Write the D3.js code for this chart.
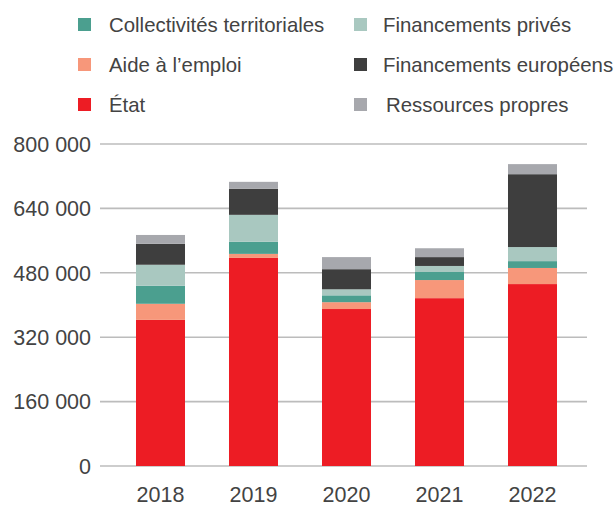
<!DOCTYPE html>
<html>
<head>
<meta charset="utf-8">
<script src="https://cdn.jsdelivr.net/npm/d3@7"></script>
<style>
  html, body { margin: 0; padding: 0; background: #fff; }
  svg { display: block; font-family: "Liberation Sans", Arial, Helvetica, sans-serif; }
</style>
</head>
<body>
<svg id="chart" width="614" height="508"></svg>
<script>
const years = ["2018", "2019", "2020", "2021", "2022"];
const seriesNames = ["État", "Aide à l’emploi", "Collectivités territoriales", "Financements privés", "Financements européens", "Ressources propres"];
const etat = [363000, 517000, 390000, 417000, 452000];
const aideEmploi = [40000, 10000, 17000, 45000, 40000];
const collectivites = [45000, 30000, 17000, 20000, 17000];
const financementsPrives = [52000, 67000, 15000, 15000, 35000];
const financementsEuropeens = [52000, 65000, 50000, 22000, 181000];
const ressourcesPropres = [22000, 17000, 30000, 22000, 25000];
const yTicks = [0, 160000, 320000, 480000, 640000, 800000];
const colors = ["#ed1c24", "#f7977a", "#4b9f8f", "#a9c8c0", "#3e3e3e", "#a7a8ad"];

const valuesBySeries = [etat, aideEmploi, collectivites, financementsPrives, financementsEuropeens, ressourcesPropres];
const table = years.map((y, i) => {
  const row = { year: y };
  seriesNames.forEach((s, k) => { row[s] = valuesBySeries[k][i]; });
  return row;
});

const svg = d3.select("#chart");
const x = d3.scaleBand().domain(years).range([114, 579]).paddingInner(0.473).paddingOuter(0.2365);
const y = d3.scaleLinear().domain([0, 800000]).range([466, 144]);

const fmt = v => d3.format(",")(v).replace(/,/g, " ");

// gridlines
svg.append("g").selectAll("line").data(yTicks).join("line")
  .attr("x1", 100).attr("x2", 587)
  .attr("y1", d => y(d)).attr("y2", d => y(d))
  .attr("stroke", "#bcbcbc").attr("stroke-width", 1.6);

// y labels
svg.append("g").selectAll("text").data(yTicks).join("text")
  .attr("x", 91).attr("y", d => y(d)).attr("dy", "0.36em")
  .attr("text-anchor", "end").attr("font-size", 21.5).attr("fill", "#434343")
  .text(d => fmt(d));

// x labels
svg.append("g").selectAll("text").data(years).join("text")
  .attr("x", d => x(d) + x.bandwidth() / 2).attr("y", 502)
  .attr("text-anchor", "middle").attr("font-size", 21.5).attr("fill", "#434343")
  .text(d => d);

// stacked bars
const stack = d3.stack().keys(seriesNames)(table);
svg.append("g").selectAll("g").data(stack).join("g")
  .attr("fill", (d, i) => colors[i])
  .selectAll("rect").data(d => d).join("rect")
  .attr("x", d => x(d.data.year))
  .attr("width", x.bandwidth())
  .attr("y", d => y(d[1]))
  .attr("height", d => y(d[0]) - y(d[1]));

// legend
const legendItems = [
  { name: "Collectivités territoriales", c: 2, col: 0, row: 0, dx: 0 },
  { name: "Aide à l’emploi", c: 1, col: 0, row: 1, dx: 0 },
  { name: "État", c: 0, col: 0, row: 2, dx: 0 },
  { name: "Financements privés", c: 3, col: 1, row: 0, dx: 0 },
  { name: "Financements européens", c: 4, col: 1, row: 1, dx: 0 },
  { name: "Ressources propres", c: 5, col: 1, row: 2, dx: 3 }
];
const colX = [78, 354];
const textX = [109, 383];
const rowY = [24.5, 64.5, 104.5];
const lg = svg.append("g").selectAll("g").data(legendItems).join("g");
lg.append("rect")
  .attr("x", d => colX[d.col]).attr("y", d => rowY[d.row] - 6.5)
  .attr("width", 13).attr("height", 13)
  .attr("fill", d => colors[d.c]);
lg.append("text")
  .attr("x", d => textX[d.col] + d.dx).attr("y", d => rowY[d.row] + 7.5)
  .attr("font-size", 20.4).attr("fill", "#434343")
  .text(d => d.name);
</script>
</body>
</html>
